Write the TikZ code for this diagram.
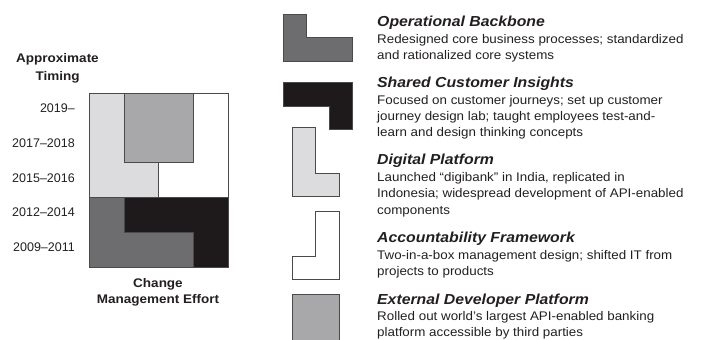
\documentclass[tikz,border=0pt]{standalone}
\usepackage{fontspec}
\setmainfont{Liberation Sans}
\newfontfamily\bodyfont[FakeStretch=1.07]{Liberation Sans}
\newfontfamily\titlefont[FakeStretch=1.09]{Liberation Sans}
\newfontfamily\axfont[FakeStretch=1.08]{Liberation Sans}
\definecolor{cdark}{HTML}{6D6D6F}
\definecolor{cblack}{HTML}{1E1A1B}
\definecolor{clight}{HTML}{DCDCDE}
\definecolor{cmid}{HTML}{A8A8AA}
\definecolor{cline}{HTML}{4A4A4A}
\definecolor{ctext}{HTML}{231F20}
\begin{document}
\begin{tikzpicture}[x=1pt,y=-1pt,
  region/.style={draw=cline, line width=0.9pt, line join=miter},
  ttl/.style={anchor=base west, inner sep=0pt, text=ctext, font=\titlefont\fontsize{14.5}{16}\selectfont\bfseries\itshape},
  body/.style={anchor=base west, inner sep=0pt, text=ctext, font=\bodyfont\fontsize{12.5}{16}\selectfont},
  yr/.style={anchor=base east, inner sep=0pt, text=ctext, font=\fontsize{12.5}{16}\selectfont},
  axl/.style={anchor=base, inner sep=0pt, text=ctext, font=\axfont\fontsize{12.5}{16}\selectfont\bfseries}]
\useasboundingbox (0,0) rectangle (707,340);
% main chart grid
\def\Xa{89}\def\Xb{124}\def\Xc{158.5}\def\Xd{193}\def\Xe{228}
\def\Ya{93}\def\Yb{128}\def\Yc{162.5}\def\Yd{197}\def\Ye{232}\def\Yf{267}
\fill[white] (\Xa,\Ya) rectangle (\Xe,\Yf);
\draw[region, fill=clight] (\Xa,\Ya) -- (\Xb,\Ya) -- (\Xb,\Yc) -- (\Xc,\Yc) -- (\Xc,\Yd) -- (\Xa,\Yd) -- cycle;
\draw[region, fill=cmid] (\Xb,\Ya) rectangle (\Xd,\Yc);
\draw[region, fill=white] (\Xd,\Ya) -- (\Xe,\Ya) -- (\Xe,\Yd) -- (\Xc,\Yd) -- (\Xc,\Yc) -- (\Xd,\Yc) -- cycle;
\draw[region, fill=cdark] (\Xa,\Yd) -- (\Xb,\Yd) -- (\Xb,\Ye) -- (\Xd,\Ye) -- (\Xd,\Yf) -- (\Xa,\Yf) -- cycle;
\draw[region, fill=cblack] (\Xb,\Yd) -- (\Xe,\Yd) -- (\Xe,\Yf) -- (\Xd,\Yf) -- (\Xd,\Ye) -- (\Xb,\Ye) -- cycle;
% axis labels
\node[axl] (ap) at (57.5,62.7) {Approximate};
\node[axl] (ti) at (57.5,80) {Timing};
\node[yr] (y1) at (75,112.7) {2019–};
\node[yr] (y2) at (75,147.3) {2017–2018};
\node[yr] (y3) at (75,182) {2015–2016};
\node[yr] (y4) at (75,216.7) {2012–2014};
\node[yr] (y5) at (75,251.3) {2009–2011};
\node[axl] (ch) at (158,287) {Change};
\node[axl] (me) at (158,303) {Management Effort};
% legend icons
\draw[region, fill=cdark] (283,14) -- (306,14) -- (306,37.5) -- (352,37.5) -- (352,61) -- (283,61) -- cycle;
\draw[region, fill=cblack] (283,82.5) -- (352,82.5) -- (352,129) -- (329,129) -- (329,106) -- (283,106) -- cycle;
\draw[region, fill=clight] (292,127) -- (315.5,127) -- (315.5,173) -- (339,173) -- (339,196) -- (292,196) -- cycle;
\draw[region, fill=white] (315.5,211) -- (339,211) -- (339,279) -- (292,279) -- (292,256) -- (315.5,256) -- cycle;
\draw[region, fill=cmid] (292,294) rectangle (339,340.5);
% legend text
\node[ttl] (t1) at (377,26) {Operational Backbone};
\node[body] (b11) at (377,43) {Redesigned core business processes; standardized};
\node[body] (b12) at (377,59) {and rationalized core systems};
\node[ttl] (t2) at (377,87.5) {Shared Customer Insights};
\node[body] (b21) at (377,104.5) {Focused on customer journeys; set up customer};
\node[body] (b22) at (377,120.5) {journey design lab; taught employees test-and-};
\node[body] (b23) at (377,136.5) {learn and design thinking concepts};
\node[ttl] (t3) at (377,164.5) {Digital Platform};
\node[body] (b31) at (377,181.5) {Launched “digibank” in India, replicated in};
\node[body] (b32) at (377,197.5) {Indonesia; widespread development of API-enabled};
\node[body] (b33) at (377,214) {components};
\node[ttl] (t4) at (377,242.5) {Accountability Framework};
\node[body] (b41) at (377,259.5) {Two-in-a-box management design; shifted IT from};
\node[body] (b42) at (377,275.5) {projects to products};
\node[ttl] (t5) at (377,304) {External Developer Platform};
\node[body] (b51) at (377,320.5) {Rolled out world’s largest API-enabled banking};
\node[body] (b52) at (377,336.5) {platform accessible by third parties};
\end{tikzpicture}
\end{document}
